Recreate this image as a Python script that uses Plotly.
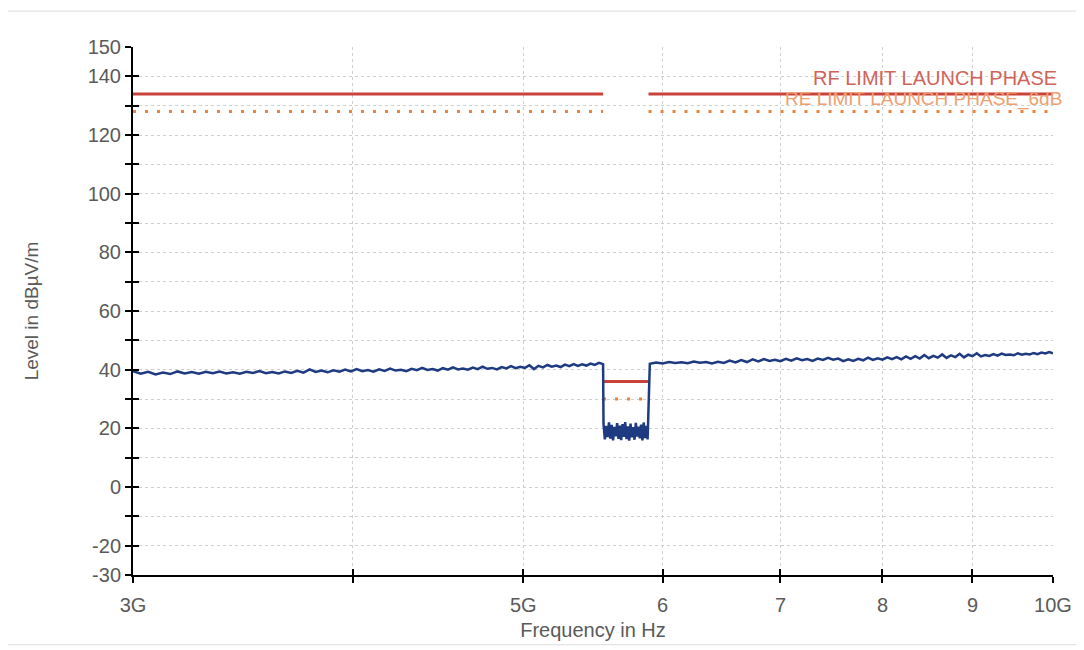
import plotly.graph_objects as go

# ---------------- data ----------------
seg1_freq = [3.00, 3.03, 3.06, 3.09, 3.12, 3.15, 3.18, 3.21, 3.24, 3.27, 3.30,
             3.33, 3.36, 3.39, 3.42, 3.45, 3.48, 3.51, 3.54, 3.57, 3.60, 3.63,
             3.66, 3.69, 3.72, 3.75, 3.78, 3.81, 3.84, 3.87, 3.90, 3.93, 3.96,
             3.99, 4.02, 4.05, 4.08, 4.11, 4.14, 4.17, 4.20, 4.23, 4.26, 4.29,
             4.32, 4.35, 4.38, 4.41, 4.44, 4.47, 4.50, 4.53, 4.56, 4.59, 4.62,
             4.65, 4.68, 4.71, 4.74, 4.77, 4.80, 4.83, 4.86, 4.89, 4.92, 4.95,
             4.98, 5.01, 5.04, 5.07, 5.10, 5.13, 5.16, 5.19, 5.22, 5.25, 5.28,
             5.31, 5.34, 5.37, 5.40, 5.43, 5.46, 5.49, 5.52, 5.55]
seg1_level = [39.5, 38.6, 39.3, 38.4, 39.0, 38.5, 39.4, 38.7, 39.2, 38.6, 39.3,
              38.8, 39.4, 38.7, 39.1, 38.6, 39.3, 38.9, 39.5, 38.8, 39.2, 38.7,
              39.4, 38.9, 39.6, 39.0, 40.1, 39.2, 39.7, 39.1, 39.8, 39.3, 40.0,
              39.4, 40.2, 39.5, 39.9, 39.3, 40.1, 39.6, 40.4, 39.7, 40.0, 39.5,
              40.3, 39.8, 40.6, 39.9, 40.2, 39.7, 40.5, 40.0, 40.8, 40.1, 40.4,
              40.0, 40.7, 40.2, 41.0, 40.3, 40.6, 40.1, 40.9, 40.4, 41.2, 40.5,
              41.0, 40.6, 41.5, 40.2, 41.3, 40.8, 41.6, 41.0, 41.4, 40.9, 41.7,
              41.2, 41.9, 41.3, 41.8, 41.4, 42.1, 41.6, 42.3, 41.9]

gap_freq = [5.553, 5.563, 5.573, 5.583, 5.593, 5.603, 5.613, 5.623, 5.633, 5.643,
            5.653, 5.663, 5.673, 5.683, 5.693, 5.703, 5.713, 5.723, 5.733, 5.743,
            5.753, 5.763, 5.773, 5.783, 5.793, 5.803, 5.813, 5.823, 5.833, 5.843,
            5.853, 5.863, 5.873, 5.883]
gap_level = [21.5, 16.2, 20.8, 17.0, 22.0, 16.5, 21.2, 15.9, 20.5, 17.3,
             21.8, 16.4, 20.9, 16.0, 21.4, 17.1, 22.1, 16.3, 20.7, 15.8,
             21.6, 16.9, 20.4, 16.1, 21.9, 17.2, 20.6, 16.6, 21.3, 15.9,
             22.0, 16.7, 20.8, 16.2]

seg3_freq = [5.90, 5.95, 6.00, 6.05, 6.10, 6.15, 6.20, 6.25, 6.30, 6.35, 6.40,
             6.45, 6.50, 6.55, 6.60, 6.65, 6.70, 6.75, 6.80, 6.85, 6.90, 6.95,
             7.00, 7.05, 7.10, 7.15, 7.20, 7.25, 7.30, 7.35, 7.40, 7.45, 7.50,
             7.55, 7.60, 7.65, 7.70, 7.75, 7.80, 7.85, 7.90, 7.95, 8.00, 8.05,
             8.10, 8.15, 8.20, 8.25, 8.30, 8.35, 8.40, 8.45, 8.50, 8.55, 8.60,
             8.65, 8.70, 8.75, 8.80, 8.85, 8.90, 8.95, 9.00, 9.05, 9.10, 9.15,
             9.20, 9.25, 9.30, 9.35, 9.40, 9.45, 9.50, 9.55, 9.60, 9.65, 9.70,
             9.75, 9.80, 9.85, 9.90, 9.95, 10.00]
seg3_level = [42.0, 42.4, 42.1, 42.6, 42.3, 42.5, 42.2, 42.8, 42.4, 42.6, 42.1,
              42.7, 42.3, 43.1, 42.5, 43.3, 42.6, 43.5, 42.8, 43.6, 43.0, 43.4,
              42.9, 43.7, 43.1, 43.9, 43.2, 43.6, 43.0, 43.8, 43.3, 44.0, 43.4,
              43.8, 42.9, 43.5, 43.0, 43.7, 43.2, 44.1, 43.3, 43.9, 43.4, 44.2,
              43.6, 44.3, 43.5, 44.5, 43.7, 44.6, 43.8, 45.0, 43.9, 44.7, 44.1,
              45.2, 44.0, 44.9, 44.3, 45.4, 44.2, 45.1, 44.6, 45.6, 44.5, 45.0,
              44.7, 45.3, 44.8, 45.5, 45.0, 45.2, 44.9, 45.6, 45.1, 45.4, 45.2,
              45.7, 45.3, 45.8, 45.5, 46.0, 45.6]

limit_freq = [3.0, 5.55, None, 5.55, 5.89, None, 5.89, 10.0]
limit_level = [134, 134, None, 36, 36, None, 134, 134]
limit6_level = [128, 128, None, 30, 30, None, 128, 128]

ytick_vals = [-30, -20, -10, 0, 10, 20, 30, 40, 50, 60, 70, 80, 90, 100, 110, 120, 130, 140, 150]
ytick_text = ["-30", "-20", "", "0", "", "20", "", "40", "", "60", "", "80", "", "100", "", "120", "", "140", "150"]
xtick_vals = [3, 4, 5, 6, 7, 8, 9, 10]
xtick_text = ["3G", "", "5G", "6", "7", "8", "9", "10G"]

label_limit = "RF LIMIT LAUNCH PHASE"
label_limit6 = "RE LIMIT LAUNCH PHASE_6dB"

# ---------------- figure ----------------
meas_freq = seg1_freq + gap_freq + seg3_freq
meas_level = seg1_level + gap_level + seg3_level

fig = go.Figure()
fig.add_trace(go.Scatter(x=limit_freq, y=limit6_level, mode="lines",
                         line=dict(color="#e8843c", width=3, dash="3px,9px"),
                         connectgaps=False, hoverinfo="skip", showlegend=False))
fig.add_trace(go.Scatter(x=limit_freq, y=limit_level, mode="lines",
                         line=dict(color="#c9433a", width=3),
                         connectgaps=False, hoverinfo="skip", showlegend=False))
fig.add_trace(go.Scatter(x=meas_freq, y=meas_level, mode="lines",
                         line=dict(color="#1e3a80", width=2.5),
                         showlegend=False))
# overlay axes for the inside half of the cross ticks
fig.add_trace(go.Scatter(x=[3], y=[None], yaxis="y2", xaxis="x2",
                         showlegend=False, hoverinfo="skip"))

tickfont = dict(family="Liberation Sans, Arial, sans-serif", size=20, color="#5a5a5a")

fig.update_layout(
    width=1076, height=642,
    margin=dict(l=125, r=24, t=39, b=74),
    paper_bgcolor="white", plot_bgcolor="white",
    font=dict(family="Liberation Sans, Arial, sans-serif", size=19, color="#5a5a5a"),
    xaxis=dict(type="log", range=[0.4771213, 1.0], tickvals=xtick_vals, ticktext=xtick_text,
               showline=True, linecolor="black", linewidth=2,
               ticks="outside", ticklen=6, tickwidth=2, tickcolor="black",
               showgrid=True, gridcolor="#cfcfcf", griddash="dot", gridwidth=1,
               zeroline=False, tickfont=tickfont, ticklabelstandoff=5,
               title=dict(text="Frequency in Hz", standoff=8,
                          font=dict(size=20, color="#5a5a5a"))),
    yaxis=dict(range=[-30, 150], tickvals=ytick_vals, ticktext=ytick_text,
               showline=True, linecolor="black", linewidth=2,
               ticks="outside", ticklen=6, tickwidth=2, tickcolor="black",
               showgrid=True, gridcolor="#cfcfcf", griddash="dot", gridwidth=1,
               zeroline=False, tickfont=tickfont,
               title=dict(text="Level in dBµV/m", standoff=44,
                          font=dict(size=19, color="#5a5a5a"))),
    xaxis2=dict(type="log", range=[0.4771213, 1.0], overlaying="x", tickvals=xtick_vals,
                ticktext=[""] * len(xtick_vals), ticks="inside", ticklen=6, tickwidth=2,
                tickcolor="black", showgrid=False, showline=False, zeroline=False,
                anchor="y2"),
    yaxis2=dict(range=[-30, 150], overlaying="y", tickvals=ytick_vals,
                ticktext=[""] * len(ytick_vals), ticks="inside", ticklen=6, tickwidth=2,
                tickcolor="black", showgrid=False, showline=False, zeroline=False,
                anchor="x2"),
)

fig.add_annotation(x=1.0065, y=139.3, xref="paper", yref="y", text=label_limit,
                   showarrow=False, xanchor="right", yanchor="middle",
                   font=dict(size=20, color="#d0645a"))
fig.add_annotation(x=1.012, y=132.4, xref="paper", yref="y", text=label_limit6,
                   showarrow=False, xanchor="right", yanchor="middle",
                   font=dict(size=19, color="#eea070"))

# faint outer frame of the page
fig.add_shape(type="rect", xref="paper", yref="paper", x0=-0.138, x1=1.031,
              y0=-0.132, y1=1.068, line=dict(color="#dddddd", width=1), layer="below")

fig.write_html("out.html")
